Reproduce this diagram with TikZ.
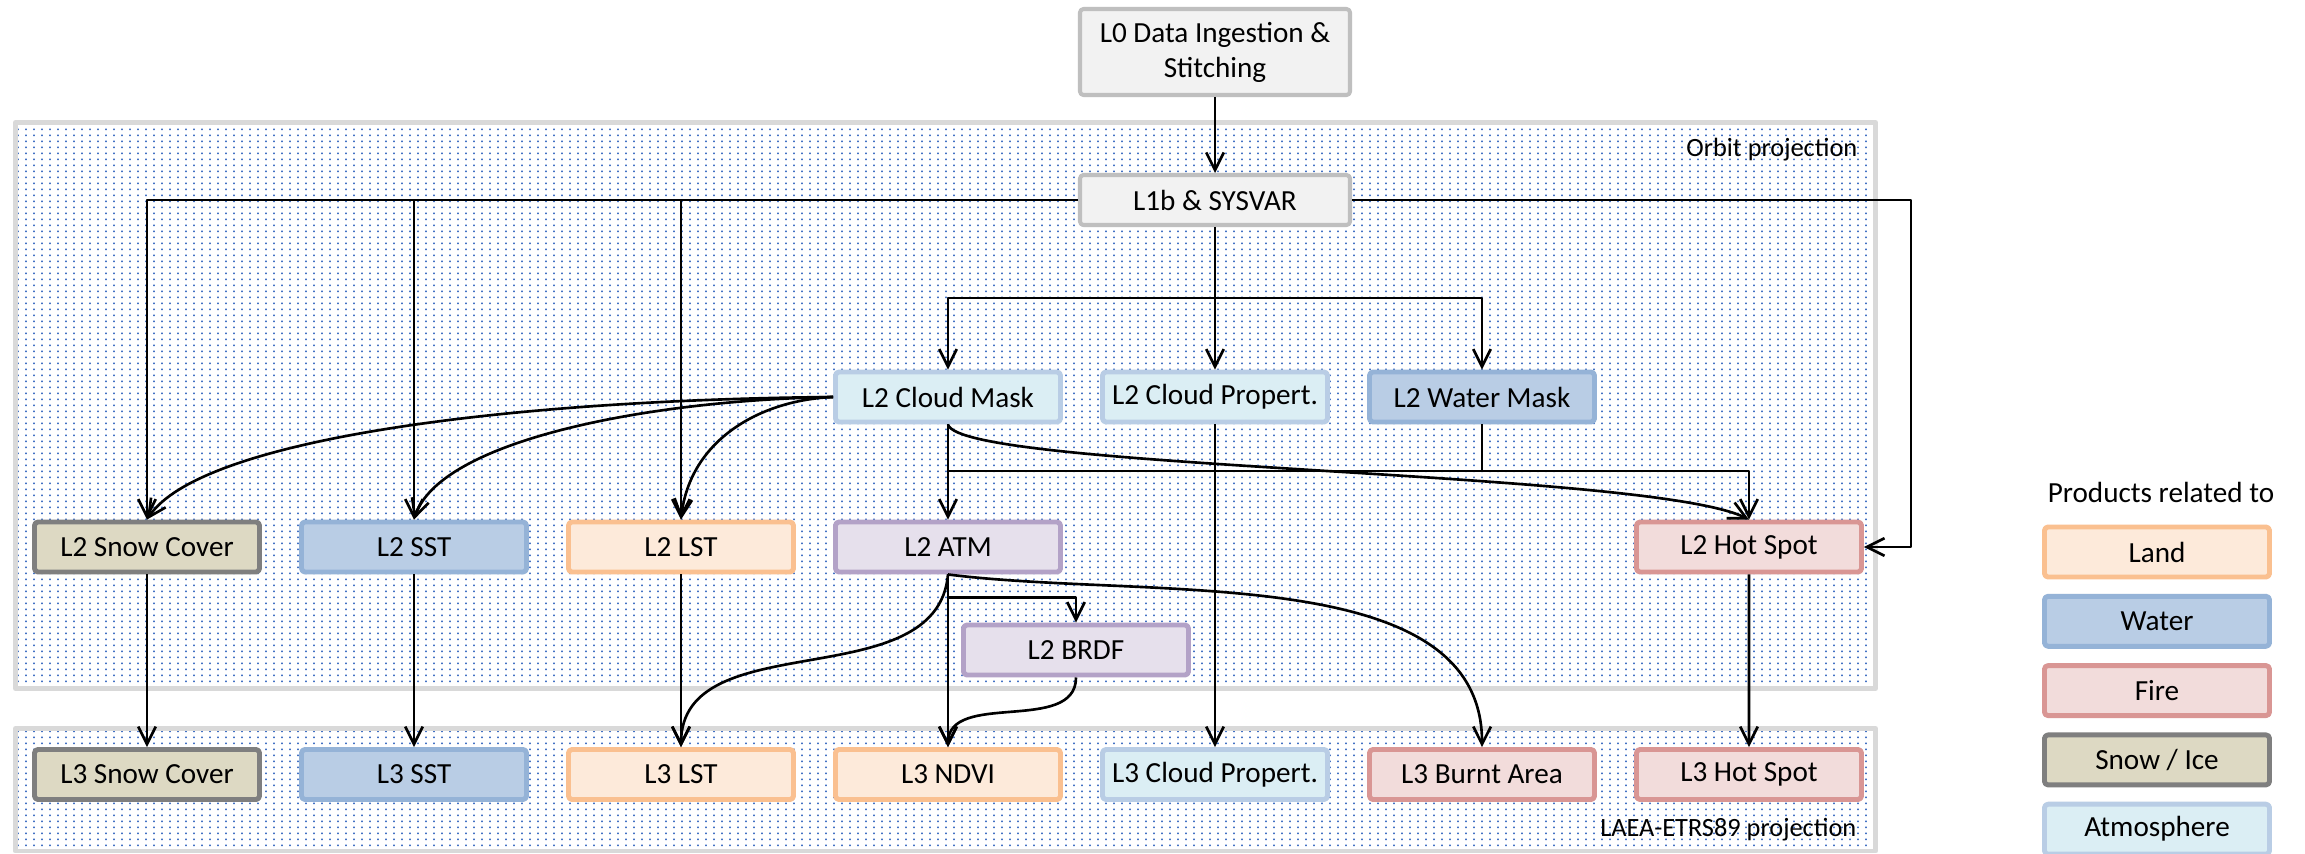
\documentclass[tikz,border=0pt]{standalone}
\usepackage{fontspec}
\setmainfont{Carlito}
\usetikzlibrary{arrows.meta,patterns.meta}
\definecolor{landfill}{HTML}{FDEADA}\definecolor{landline}{HTML}{FAC090}
\definecolor{waterfill}{HTML}{B9CDE5}\definecolor{waterline}{HTML}{95B3D7}
\definecolor{firefill}{HTML}{F2DCDB}\definecolor{fireline}{HTML}{D99694}
\definecolor{snowfill}{HTML}{DDD9C3}\definecolor{snowline}{HTML}{7F7F7F}
\definecolor{atmofill}{HTML}{DBEEF4}\definecolor{atmoline}{HTML}{B9CDE5}
\definecolor{corrfill}{HTML}{E6E0EC}\definecolor{corrline}{HTML}{B3A2C7}
\definecolor{grayfill}{HTML}{F2F2F2}\definecolor{grayline}{HTML}{BFBFBF}
\definecolor{regionline}{HTML}{D9D9D9}
\definecolor{dotblue}{HTML}{4472C4}
\tikzdeclarepattern{
  name=bluedots, type=uncolored,
  bottom left={(0,0)}, top right={(0.8mm,0.61mm)},
  tile size={(0.8mm,0.61mm)},
  code={\fill (0.22mm,0.22mm) rectangle (0.39mm,0.39mm);}
}
\begin{document}
\begin{tikzpicture}[line join=round, >={Straight Barb[length=5pt,width=5pt]},
  box/.style={draw, line width=1.4pt, rounded corners=1pt, minimum width=2.25cm,
    minimum height=0.5cm, inner sep=0pt, font=\fontsize{8.3}{10}\selectfont},
  land/.style={box, draw=landline, fill=landfill},
  water/.style={box, draw=waterline, fill=waterfill},
  fire/.style={box, draw=fireline, fill=firefill},
  snow/.style={box, draw=snowline, fill=snowfill},
  atmo/.style={box, draw=atmoline, fill=atmofill},
  corr/.style={box, draw=corrline, fill=corrfill},
  base/.style={box, line width=1.15pt, draw=grayline, fill=grayfill, minimum width=2.7cm},
  region/.style={draw=regionline, line width=1.4pt, pattern=bluedots, pattern color=dotblue},
  link/.style={->, line width=0.75pt},
  small/.style={font=\fontsize{7.5}{9}\selectfont, inner sep=0pt}]
\useasboundingbox (0,0) rectangle (23.05,-8.54);
\fill[white] (0,0) rectangle (23.05,-8.54);
% processing regions
\draw[region] (0.155,-1.225) rectangle (18.755,-6.885);
\draw[region] (0.155,-7.285) rectangle (18.755,-8.51);
\node[small, anchor=east] (orbitlbl) at (18.58,-1.50) {Orbit projection};
\node[small, anchor=east] (laealbl) at (18.57,-8.30) {LAEA-ETRS89 projection};
% L0 / L1b
\node[base, minimum height=0.86cm, align=center] (l0) at (12.15,-0.52) {L0 Data Ingestion \&\\Stitching};
\node[base] (l1b) at (12.15,-2.00) {L1b \& SYSVAR};
% L2 products
\node[atmo] (cmask) at (9.48,-3.97) {L2 Cloud Mask};
\node[atmo] (cprop2) at (12.15,-3.97) {L2 Cloud Propert.};
\node[water] (wmask) at (14.82,-3.97) {L2 Water Mask};
\node[snow] (snow2) at (1.47,-5.47) {L2 Snow Cover};
\node[water] (sst2) at (4.14,-5.47) {L2 SST};
\node[land] (lst2) at (6.81,-5.47) {L2 LST};
\node[corr] (atm2) at (9.48,-5.47) {L2 ATM};
\node[fire] (hot2) at (17.49,-5.47) {L2 Hot Spot};
\node[corr] (brdf) at (10.76,-6.50) {L2 BRDF};
% L3 products
\foreach \nm/\sty/\lbl [count=\i from 0] in {snow3/snow/Snow Cover, sst3/water/SST,
    lst3/land/LST, ndvi3/land/NDVI, cprop3/atmo/Cloud Propert., burnt3/fire/Burnt Area, hot3/fire/Hot Spot}
  \node[\sty] (\nm) at (1.47+2.67*\i,-7.745) {L3 \lbl};
% legend
\node[font=\fontsize{8.3}{10}\selectfont] (legtitle) at (21.61,-4.92) {Products related to};
\foreach \sty/\lbl [count=\i from 0] in {land/Land, water/Water, fire/Fire, snow/{Snow / Ice}, atmo/Atmosphere}
  \node[\sty] (leg\i) at (21.57,-5.52-0.693*\i) {\lbl};
% connectors
\coordinate (rturn) at (19.11,-2.00);
\coordinate (split) at (12.15,-2.98);
\coordinate (mjoin) at (14.82,-4.71);
\draw[link] (l0) -- (l1b);
\draw[link] (l1b.west) -| (snow2.north);
\draw[link] (l1b.west -| sst2.north) -- (sst2.north);
\draw[link] (l1b.west -| lst2.north) -- (lst2.north);
\draw[link] (l1b.east) -- (rturn) |- (hot2.east);
\draw[link] (l1b) -- (cprop2);
\draw[link] (split) -| (cmask.north);
\draw[link] (split) -| (wmask.north);
\draw[link] (cmask) -- (atm2);
\draw[link] (wmask.south) -- (mjoin) -| (hot2.north);
\draw[line width=0.75pt] (mjoin) -- (mjoin -| cmask.south);
\draw[link] (cmask.south) .. controls (9.60,-4.70) and (16.50,-4.70) .. (hot2.north);
\draw[link] (cmask.west) .. controls (5.00,-4.00) and (2.00,-4.40) .. (snow2.north);
\draw[link] (cmask.west) .. controls (6.50,-4.00) and (4.40,-4.40) .. (sst2.north);
\draw[link] (cmask.west) .. controls (7.60,-4.00) and (6.90,-4.40) .. (lst2.north);
\draw[link] (cprop2) -- (cprop3);
\draw[link] (atm2) -- (ndvi3);
\draw[link] (atm2.south) -- ++(0,-0.23) -| (brdf.north);
\draw[link] (atm2.south) to[out=-95,in=90] (lst3.north);
\draw[link] (atm2.south) .. controls (11.50,-6.00) and (14.83,-5.60) .. (burnt3.north);
\draw[link] (brdf.south) to[out=-90,in=90] (ndvi3.north);
\foreach \a/\b in {snow2/snow3, sst2/sst3, lst2/lst3, hot2/hot3}
  \draw[link] (\a) -- (\b);
\end{tikzpicture}
\end{document}
